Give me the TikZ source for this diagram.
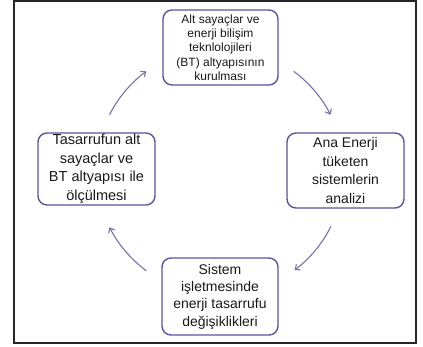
\documentclass[tikz,border=0pt]{standalone}
\usepackage{fontspec}
\setmainfont{Liberation Sans}
\usetikzlibrary{arrows.meta,calc}
\definecolor{boxline}{RGB}{92,82,160}
\definecolor{cycarrow}{RGB}{124,110,174}
\definecolor{txt}{RGB}{25,25,25}
\begin{document}
\begin{tikzpicture}[x=1pt,y=1pt,
  stage/.style={draw=boxline, line width=1.4pt, rounded corners=9pt,
    align=center, inner sep=0pt, text=txt},
  cyc/.style={draw=cycarrow, line width=1.1pt,
    -{Straight Barb[length=4pt,width=7pt]}},
  outerframe/.style={draw=black!85, line width=1.3pt}]
\useasboundingbox (0,0) rectangle (423,346);
\draw[outerframe] (14,3) rectangle (416,345);

% the four stages of the cycle
\node[stage, minimum width=115pt, minimum height=75pt,
  font=\fontsize{12}{14.25}\selectfont] (build) at (220.5,298.5)
  {Alt sayaçlar ve\\enerji bilişim\\teknlolojileri\\(BT) altyapısının\\kurulması};
\node[stage, minimum width=117pt, minimum height=75pt,
  font=\fontsize{14}{18.7}\selectfont] (analyse) at (345.5,175.5)
  {Ana Enerji\\tüketen\\sistemlerin\\analizi};
\node[stage, minimum width=116pt, minimum height=77pt,
  font=\fontsize{14}{17.3}\selectfont] (change) at (220,49.5)
  {Sistem\\işletmesinde\\enerji tasarrufu\\değişiklikleri};
\node[stage, minimum width=117pt, minimum height=72pt,
  font=\fontsize{14.5}{18.5}\selectfont] (measure) at (96.5,177)
  {Tasarrufun alt\\sayaçlar ve\\BT altyapısı ile\\ölçülmesi};

% clockwise arcs on a circle through the stage centres
\coordinate (hub) at (220,175);
\coordinate (m2b) at ($(hub)+(153:124)$);
\coordinate (b2a) at ($(hub)+(53.5:124)$);
\coordinate (a2c) at ($(hub)+(-26.5:124)$);
\coordinate (c2m) at ($(hub)+(-126.5:124)$);
\draw[cyc] (m2b) arc[start angle=153, end angle=126.5, radius=124];
\draw[cyc] (b2a) arc[start angle=53.5, end angle=27, radius=124];
\draw[cyc] (a2c) arc[start angle=-26.5, end angle=-53, radius=124];
\draw[cyc] (c2m) arc[start angle=-126.5, end angle=-153, radius=124];
\end{tikzpicture}
\end{document}
